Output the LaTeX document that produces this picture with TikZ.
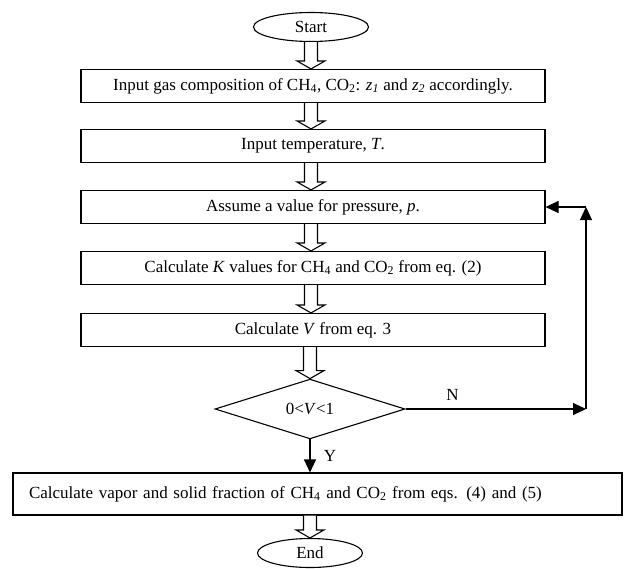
\documentclass[tikz,border=0pt]{standalone}
\usepackage{fontspec}
\setmainfont{Liberation Serif}
\usetikzlibrary{shapes.geometric,arrows.meta,calc}

% open block arrow between two steps
\newcommand{\hollowarrow}[2]{%
  \draw[line width=1.1pt,fill=white] ($(#2 |- #1)+(-6.5,0)$) -- ($(#2)+(-6.5,-8)$) -- ($(#2)+(-14,-8)$)
    -- (#2) -- ($(#2)+(14,-8)$) -- ($(#2)+(6.5,-8)$) -- ($(#2 |- #1)+(6.5,0)$);}

\begin{document}
\begin{tikzpicture}[x=1pt,y=-1pt]
    \tikzset{every node/.style={font=\fontsize{17}{20}\selectfont},
        stepbox/.style={draw,line width=1.1pt,minimum width=464pt,minimum height=33pt,inner sep=0pt},
        widebox/.style={draw,line width=1.1pt,minimum height=42pt,text width=577pt,align=left,inner xsep=16pt,inner ysep=0pt},
        terminal/.style={draw,ellipse,line width=1.1pt,minimum width=115pt,minimum height=29pt,inner sep=0pt},
        decision/.style={draw,diamond,line width=1.1pt,minimum width=190pt,minimum height=52pt,inner sep=0pt},
        flow/.style={line width=1.1pt,-{Triangle[length=13pt,width=12pt]}}}
    \useasboundingbox (0,0) rectangle (626,568);
    \node[terminal] (start) at (311,27) {Start};
    \node[stepbox] (gas) at (313,86) {Input gas composition of CH\textsubscript{4}, CO\textsubscript{2}: \textit{z}\textsubscript{\textit{1}} and \textit{z}\textsubscript{\textit{2}} accordingly.};
    \node[stepbox] (temp) at (313,146) {Input temperature, \textit{T}.};
    \node[stepbox] (press) at (313,207) {Assume a value for pressure, \textit{p}.};
    \node[stepbox] (kval) at (313,268) {Calculate \textit{K} values for CH\textsubscript{4} and CO\textsubscript{2} from eq. (2)};
    \node[stepbox] (vcalc) at (313,330) {Calculate \textit{V} from eq. 3};
    \node[decision] (check) at (310,409) {0<\textit{V}<1};
    \node[widebox] (frac) at (317.5,494) {Calculate vapor and solid fraction of CH\textsubscript{4} and CO\textsubscript{2} from eqs. (4) and (5)};
    \node[terminal,minimum width=105pt] (end) at (310,553) {End};
    \coordinate (loop) at (586,0);
    % block arrows down the chart
    \foreach \a/\b in {start/gas,gas/temp,temp/press,press/kval,kval/vcalc}
        \hollowarrow{\a.south}{start.south |- \b.north};
    \hollowarrow{vcalc.south}{check.north}
    \hollowarrow{frac.south}{end.north}
    % decision and loop back
    \draw[flow] (check.south) -- (check.south |- frac.north) node[midway,right=10pt] {Y};
    \draw[flow] (check.east) -- (check.east -| loop) node[pos=0.26,above=5pt] {N};
    \draw[flow] (check.east -| loop) -- (press.east -| loop);
    \draw[flow] (press.east -| loop) -- (press.east);
\end{tikzpicture}
\end{document}
